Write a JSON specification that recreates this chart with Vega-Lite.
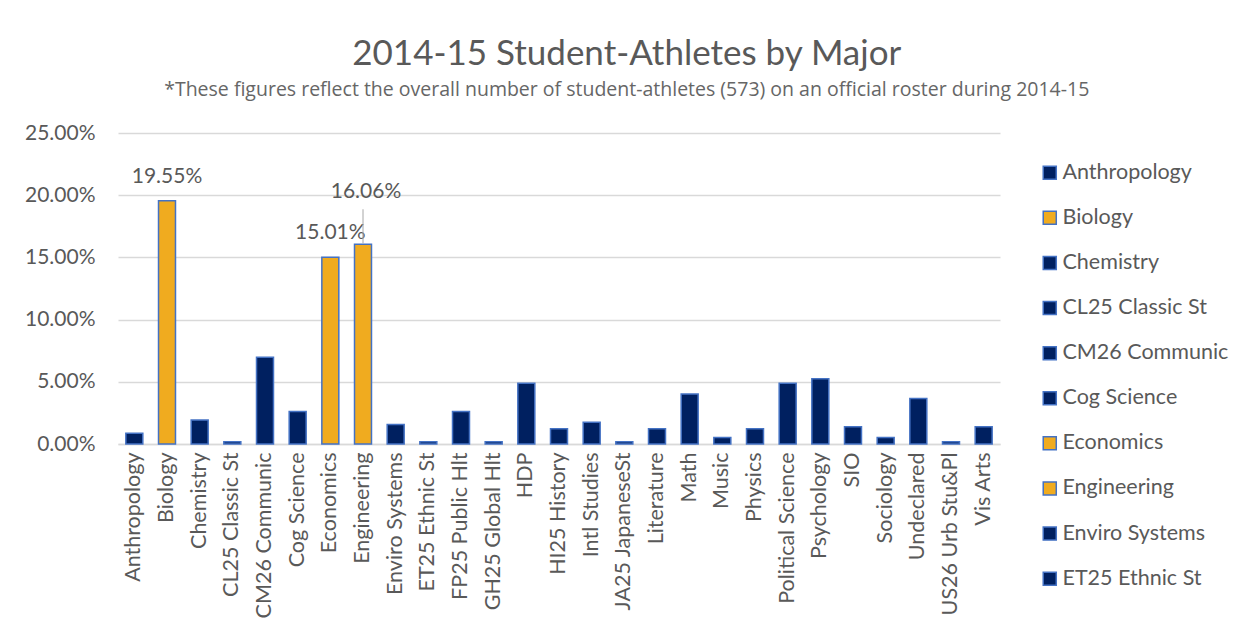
{
  "$schema": "https://vega.github.io/schema/vega-lite/v6.json",
  "width": 882,
  "height": 311,
  "autosize": {"type": "none"},
  "padding": {"left": 118, "top": 133, "right": 252, "bottom": 194},
  "background": "white",
  "title": {
    "text": "2014-15 Student-Athletes by Major",
    "subtitle": "*These figures reflect the overall number of student-athletes (573) on an official roster during 2014-15",
    "anchor": "middle",
    "frame": "bounds",
    "font": "Lato",
    "fontSize": 35,
    "fontWeight": "normal",
    "color": "#595959",
    "subtitleFont": "Open Sans",
    "subtitleFontSize": 19.5,
    "subtitleColor": "#666666",
    "subtitlePadding": 9,
    "offset": 23
  },
  "data": {
    "values": [
      {"Major": "Anthropology", "Share": 0.008726},
      {"Major": "Biology", "Share": 0.195463},
      {"Major": "Chemistry", "Share": 0.019197},
      {"Major": "CL25 Classic St", "Share": 0.001745},
      {"Major": "CM26 Communic", "Share": 0.069808},
      {"Major": "Cog Science", "Share": 0.026178},
      {"Major": "Economics", "Share": 0.150087},
      {"Major": "Engineering", "Share": 0.160558},
      {"Major": "Enviro Systems", "Share": 0.015707},
      {"Major": "ET25 Ethnic St", "Share": 0.001745},
      {"Major": "FP25 Public Hlt", "Share": 0.026178},
      {"Major": "GH25 Global Hlt", "Share": 0.001745},
      {"Major": "HDP", "Share": 0.048866},
      {"Major": "HI25 History", "Share": 0.012216},
      {"Major": "Intl Studies", "Share": 0.017452},
      {"Major": "JA25 JapaneseSt", "Share": 0.001745},
      {"Major": "Literature", "Share": 0.012216},
      {"Major": "Math", "Share": 0.04014},
      {"Major": "Music", "Share": 0.005236},
      {"Major": "Physics", "Share": 0.012216},
      {"Major": "Political Science", "Share": 0.048866},
      {"Major": "Psychology", "Share": 0.052356},
      {"Major": "SIO", "Share": 0.013962},
      {"Major": "Sociology", "Share": 0.005236},
      {"Major": "Undeclared", "Share": 0.036649},
      {"Major": "US26 Urb Stu&Pl", "Share": 0.001745},
      {"Major": "Vis Arts", "Share": 0.013962}
    ]
  },
  "encoding": {
    "x": {
      "field": "Major",
      "type": "nominal",
      "sort": null,
      "scale": {"paddingInner": 0.48, "paddingOuter": 0.24},
      "axis": {
        "title": null,
        "labelAngle": -90,
        "labelFont": "Lato",
        "labelFontSize": 21.5,
        "labelColor": "#595959",
        "labelPadding": 8,
        "ticks": false,
        "domainColor": "#D9D9D9",
        "domainWidth": 1.5,
        "labelLimit": 300
      }
    },
    "y": {
      "field": "Share",
      "type": "quantitative",
      "scale": {"domain": [0, 0.25], "nice": false},
      "axis": {
        "title": null,
        "values": [0, 0.05, 0.1, 0.15, 0.2, 0.25],
        "format": ".2%",
        "labelFont": "Lato",
        "labelFontSize": 21,
        "labelColor": "#595959",
        "labelPadding": 23,
        "ticks": false,
        "domain": false,
        "gridColor": "#D9D9D9",
        "gridWidth": 1.5
      }
    }
  },
  "layer": [
    {
      "mark": {"type": "bar", "stroke": "#4472C4", "strokeWidth": 1.5},
      "encoding": {
        "color": {
          "field": "Major",
          "type": "nominal",
          "scale": {
            "domain": ["Anthropology", "Biology", "Chemistry", "CL25 Classic St", "CM26 Communic", "Cog Science", "Economics", "Engineering", "Enviro Systems", "ET25 Ethnic St", "FP25 Public Hlt", "GH25 Global Hlt", "HDP", "HI25 History", "Intl Studies", "JA25 JapaneseSt", "Literature", "Math", "Music", "Physics", "Political Science", "Psychology", "SIO", "Sociology", "Undeclared", "US26 Urb Stu&Pl", "Vis Arts"],
            "range": ["#002060", "#F0AB1F", "#002060", "#002060", "#002060", "#002060", "#F0AB1F", "#F0AB1F", "#002060", "#002060", "#002060", "#002060", "#002060", "#002060", "#002060", "#002060", "#002060", "#002060", "#002060", "#002060", "#002060", "#002060", "#002060", "#002060", "#002060", "#002060", "#002060"]
          },
          "legend": {
            "title": null,
            "values": ["Anthropology", "Biology", "Chemistry", "CL25 Classic St", "CM26 Communic", "Cog Science", "Economics", "Engineering", "Enviro Systems", "ET25 Ethnic St"],
            "orient": "none",
            "legendX": 921,
            "legendY": 29,
            "padding": 0,
            "symbolType": "square",
            "symbolSize": 170,
            "symbolStrokeColor": "#4472C4",
            "symbolStrokeWidth": 1.5,
            "symbolOpacity": 1,
            "labelFont": "Lato",
            "labelFontSize": 21.5,
            "labelColor": "#595959",
            "labelOffset": 2,
            "rowPadding": 22.1,
            "labelLimit": 250
          }
        }
      }
    },
    {
      "transform": [{"filter": "datum.Major === 'Biology' || datum.Major === 'Economics'"}],
      "mark": {"type": "text", "dy": -24, "baseline": "middle", "font": "Lato", "fontSize": 21, "color": "#595959"},
      "encoding": {"text": {"field": "Share", "type": "quantitative", "format": ".2%"}}
    },
    {
      "transform": [{"filter": "datum.Major === 'Engineering'"}],
      "mark": {"type": "text", "dy": -52, "dx": 3, "baseline": "middle", "font": "Lato", "fontSize": 21, "color": "#595959"},
      "encoding": {"text": {"field": "Share", "type": "quantitative", "format": ".2%"}}
    },
    {
      "transform": [{"filter": "datum.Major === 'Engineering'"}],
      "mark": {"type": "rule", "yOffset": -1, "y2Offset": -35, "color": "#A6A6A6", "strokeWidth": 1},
      "encoding": {"y2": {"field": "Share"}}
    }
  ],
  "config": {"view": {"stroke": null}}
}
